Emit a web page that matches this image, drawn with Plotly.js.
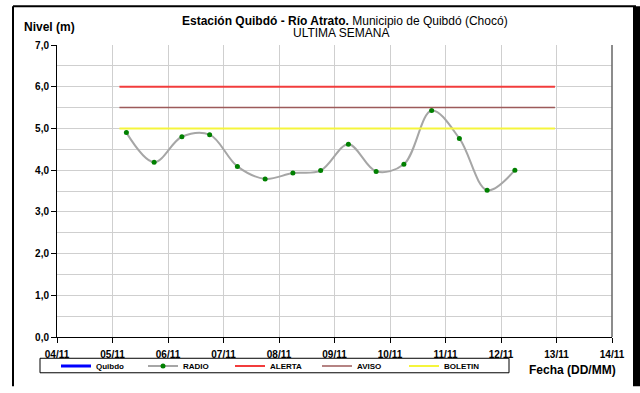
<!DOCTYPE html>
<html>
<head>
<meta charset="utf-8">
<script src="https://cdn.plot.ly/plotly-3.0.1.min.js"></script>
<style>
html,body{margin:0;padding:0;background:#fff;}
#chart{width:640px;height:393px;}
</style>
</head>
<body>
<div id="chart"></div>
<script>
// ---- data ----
const radioTimes = [
  "2023-11-05 06:00","2023-11-05 18:00","2023-11-06 06:00","2023-11-06 18:00",
  "2023-11-07 06:00","2023-11-07 18:00","2023-11-08 06:00","2023-11-08 18:00",
  "2023-11-09 06:00","2023-11-09 18:00","2023-11-10 06:00","2023-11-10 18:00",
  "2023-11-11 06:00","2023-11-11 18:00","2023-11-12 06:00"
];
const radioLevels = [4.90,4.19,4.80,4.85,4.09,3.79,3.93,3.99,4.62,3.97,4.14,5.43,4.76,3.52,4.00];
const quibdoTimes = [null];   // series present in the legend, no readings drawn
const quibdoLevels = [null];
const thresholdTimes = ["2023-11-05 03:00","2023-11-12 23:20"];
const alertaLevel = [6.0, 6.0];
const avisoLevel = [5.5, 5.5];
const boletinLevel = [5.0, 5.0];
const xRange = ["2023-11-04","2023-11-14"];
const seriesNames = ["Quibdo","RADIO","ALERTA","AVISO","BOLETIN"];

// ---- layout geometry (pixels) ----
const W = 640, H = 393;
const L = 57, R = 612, T = 45, B = 347;
const pw = R - L, ph = B - T;
const px = x => (x - L) / pw;
const py = y => (B - y) / ph;

const FONT = "Liberation Sans, Arial, sans-serif";

const traces = [
  {x: quibdoTimes, y: quibdoLevels, name: seriesNames[0], type: "scatter", mode: "lines",
   line: {color: "#0000ff", width: 3}},
  {x: radioTimes, y: radioLevels, name: seriesNames[1], type: "scatter", mode: "lines+markers",
   line: {color: "#a6a6a6", width: 2, shape: "spline", smoothing: 1},
   marker: {color: "#008000", size: 5}},
  {x: thresholdTimes, y: alertaLevel, name: seriesNames[2], type: "scatter", mode: "lines",
   line: {color: "#f23c3c", width: 2}},
  {x: thresholdTimes, y: avisoLevel, name: seriesNames[3], type: "scatter", mode: "lines",
   line: {color: "#9c5a5a", width: 1.5}},
  {x: thresholdTimes, y: boletinLevel, name: seriesNames[4], type: "scatter", mode: "lines",
   line: {color: "#f5f53c", width: 2}}
];

const layout = {
  width: W, height: H,
  margin: {l: L, r: W - R, t: T, b: H - B, pad: 0},
  paper_bgcolor: "#ffffff", plot_bgcolor: "#ffffff",
  separators: ",.",
  font: {family: FONT, size: 10, color: "#000"},
  showlegend: true,
  legend: {orientation: "h", x: px(56), xanchor: "left", y: py(377), yanchor: "middle",
           font: {family: FONT, size: 8, weight: "bold", color: "#000"},
           bgcolor: "rgba(0,0,0,0)", borderwidth: 0, entrywidth: 42, entrywidthmode: "pixels",
           tracegroupgap: 0, itemclick: false},
  xaxis: {type: "date", range: xRange, dtick: 86400000, tickformat: "%d/%m",
          showgrid: true, gridcolor: "#cfcfcf", gridwidth: 1,
          showline: true, linecolor: "#000", linewidth: 1,
          ticks: "outside", ticklen: 5, tickcolor: "#000", ticklabelstandoff: 3,
          tickfont: {family: FONT, size: 10, weight: "bold", color: "#000"},
          zeroline: false, fixedrange: true},
  yaxis: {range: [0, 7], dtick: 1, tickformat: ".1f",
          showgrid: true, gridcolor: "#cfcfcf", gridwidth: 1,
          minor: {dtick: 0.5, showgrid: true, gridcolor: "#cfcfcf", gridwidth: 1},
          showline: true, linecolor: "#000", linewidth: 1,
          ticks: "outside", ticklen: 5, tickcolor: "#000",
          tickfont: {family: FONT, size: 10, weight: "bold", color: "#000"},
          zeroline: false, fixedrange: true},
  shapes: [
    // outer chart frame
    {type: "line", xref: "paper", yref: "paper", x0: px(13), x1: px(13), y0: py(5), y1: py(H + 5),
     line: {color: "#000", width: 2}},
    {type: "line", xref: "paper", yref: "paper", x0: px(13), x1: px(636), y0: py(5), y1: py(5),
     line: {color: "#000", width: 2}},
    {type: "rect", xref: "paper", yref: "paper", x0: px(633), x1: px(641), y0: py(5), y1: py(H + 5),
     fillcolor: "#000", line: {width: 0}},
    // right edge of plot area
    {type: "line", xref: "paper", yref: "paper", x0: 1, x1: 1, y0: 0, y1: 1,
     line: {color: "#666", width: 1.5}},
    // legend box
    {type: "rect", xref: "paper", yref: "paper", x0: px(40), x1: px(509), y0: py(369), y1: py(384),
     line: {color: "#000", width: 1}, fillcolor: "rgba(0,0,0,0)"}
  ],
  annotations: [
    {xref: "paper", yref: "paper", x: px(345), y: py(20), xanchor: "center", yanchor: "middle",
     text: "<b>Estación Quibdó - Río Atrato.</b> Municipio de Quibdó (Chocó)", showarrow: false,
     font: {family: FONT, size: 12, color: "#000"}},
    {xref: "paper", yref: "paper", x: px(341), y: py(33), xanchor: "center", yanchor: "middle",
     text: "ULTIMA SEMANA", showarrow: false, font: {family: FONT, size: 12, color: "#000"}},
    {xref: "paper", yref: "paper", x: px(22), y: py(26), xanchor: "left", yanchor: "middle",
     text: "Nivel (m)", showarrow: false, font: {family: FONT, size: 12, weight: "bold", color: "#000"}},
    {xref: "paper", yref: "paper", x: px(618), y: py(381), xanchor: "right", yanchor: "middle",
     text: "Fecha (DD/MM)", showarrow: false, font: {family: FONT, size: 12, weight: "bold", color: "#000"}}
  ]
};

Plotly.newPlot("chart", traces, layout, {displayModeBar: false, staticPlot: true});
</script>
</body>
</html>
